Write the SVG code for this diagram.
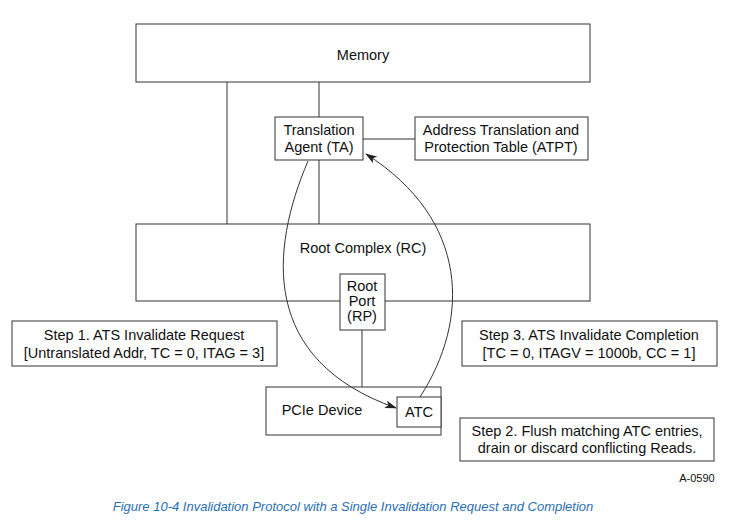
<svg xmlns="http://www.w3.org/2000/svg" width="743" height="525" viewBox="0 0 743 525">
<style>
.b{fill:#fff;stroke:#333;stroke-width:1}
.l{stroke:#333;stroke-width:1;fill:none}
text{font-family:"Liberation Sans",Arial,sans-serif;font-size:14.5px;fill:#111;text-anchor:middle}
</style>
<defs><marker id="a" markerWidth="12" markerHeight="8" refX="11" refY="4" orient="auto" markerUnits="userSpaceOnUse"><path d="M0,0 L12,4 L0,8 L3,4 Z" fill="#222"/></marker></defs>
<rect width="743" height="525" fill="#fff"/>
<g id="memory"><rect class="b" x="136" y="24" width="454" height="58"/><text x="363" y="60">Memory</text></g>
<g id="ta"><rect class="b" x="275" y="117" width="88" height="43"/><text x="319" y="135">Translation</text><text x="319" y="152">Agent (TA)</text></g>
<g id="atpt"><rect class="b" x="415" y="117" width="173" height="43"/><text x="501" y="135">Address Translation and</text><text x="501" y="152">Protection Table (ATPT)</text></g>
<g id="rc"><rect class="b" x="136" y="224" width="454" height="77" fill-opacity="0"/><text x="363" y="253">Root Complex (RC)</text></g>
<g id="rp"><rect class="b" x="340" y="274" width="45" height="56"/><text x="362" y="291">Root</text><text x="362" y="306">Port</text><text x="362" y="321">(RP)</text></g>
<g id="pcie"><rect class="b" x="266" y="387" width="175" height="48"/><text x="322" y="415">PCIe Device</text></g>
<g id="atc"><rect class="b" x="397" y="397" width="44" height="30"/><text x="419" y="417">ATC</text></g>
<g id="step1"><rect class="b" x="12" y="321" width="265" height="45"/><text x="144" y="340">Step 1. ATS Invalidate Request</text><text x="144" y="358">[Untranslated Addr, TC = 0, ITAG = 3]</text></g>
<g id="step3"><rect class="b" x="462" y="321" width="255" height="45"/><text x="589" y="340">Step 3. ATS Invalidate Completion</text><text x="589" y="358">[TC = 0, ITAGV = 1000b, CC = 1]</text></g>
<g id="step2"><rect class="b" x="460" y="418" width="254" height="43"/><text x="587" y="436">Step 2. Flush matching ATC entries,</text><text x="587" y="453">drain or discard conflicting Reads.</text></g>
<g id="connectors">
<line class="l" x1="227" y1="82" x2="227" y2="224"/>
<line class="l" x1="319" y1="82" x2="319" y2="117"/>
<line class="l" x1="319" y1="160" x2="319" y2="224"/>
<line class="l" x1="363" y1="139" x2="415" y2="139"/>
<line class="l" x1="362" y1="330" x2="362" y2="387"/>
<path class="l" stroke-width="1.3" d="M308,161 C270,250 260,360 396,408" marker-end="url(#a)"/>
<path class="l" stroke-width="1.3" d="M420,397 C470,320 470,220 366,154" marker-end="url(#a)"/>
</g>
<text x="697" y="482" style="font-size:11px">A-0590</text>
<text x="353" y="511" style="font-size:13px;font-style:italic;fill:#2a6fb5">Figure  10-4  Invalidation Protocol with a Single Invalidation Request and Completion</text>
</svg>
